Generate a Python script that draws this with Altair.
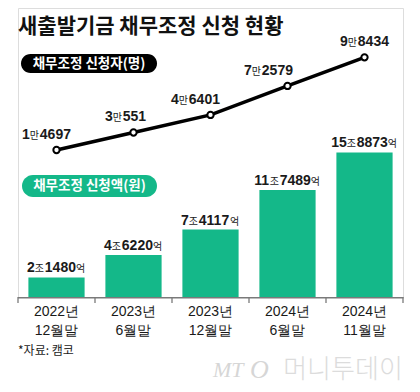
import altair as alt
import pandas as pd

# ---- data ----
periods = ["2022년 12월말", "2023년 6월말", "2023년 12월말", "2024년 6월말", "2024년 11월말"]
applicants = [14697, 30551, 46401, 72579, 98434]          # 명
amounts_eok = [21480, 46220, 74117, 117489, 158873]       # 억원

# ---- styles ----
GREEN = "#14b889"
INK = "#1a1a1a"
AXIS_GRAY = "#7a7a7a"
DIGIT_FONT = "Liberation Sans"
HANGUL_FONT = "Noto Sans CJK KR"
DIGIT_SIZE = 14
UNIT_SIZE = 10
DIGIT_W = 0.556 * DIGIT_SIZE
UNIT_W = 1.0 * UNIT_SIZE
LINE_LABEL_NUDGE = [-10, -8, -15, -19, 0]

W, H = 385, 289
PAD_INNER = 0.27
BAR_DOMAIN = [0, 317600]
LINE_DOMAIN = [-118070, 143000]

n_cat = len(periods)
df_bar = pd.DataFrame({"period": periods, "amount": amounts_eok})
df_line = pd.DataFrame({"period": periods, "applicants": applicants})
# category boundaries (between the bands) for the axis ticks
df_edges = pd.DataFrame({"b": [i - 0.5 for i in range(n_cat + 1)]})
one = pd.DataFrame({"k": [0]})

xsort = periods
x_scale = alt.Scale(domain=periods, paddingInner=PAD_INNER, paddingOuter=PAD_INNER / 2)

bar_y = alt.Y("amount:Q", scale=alt.Scale(domain=BAR_DOMAIN, nice=False, zero=False), axis=None)
line_y = alt.Y("applicants:Q", scale=alt.Scale(domain=LINE_DOMAIN, nice=False, zero=False), axis=None)
x_plain = alt.X("period:N", sort=xsort, scale=x_scale, axis=None)

bars = alt.Chart(df_bar).mark_bar(color=GREEN).encode(x=x_plain, y=bar_y)

# category axis: baseline, boundary ticks and two-line labels
axis_line = alt.Chart(one).mark_rect(color=AXIS_GRAY, opacity=1).encode(
    x=alt.value(0), x2=alt.value(W + 0.5), y=alt.value(H), y2=alt.value(H + 1.5))
ticks = alt.Chart(df_edges).mark_tick(color=AXIS_GRAY, orient="vertical", thickness=1.3,
                                      size=6, opacity=1).encode(
    x=alt.X("b:Q", scale=alt.Scale(domain=[-0.5, n_cat - 0.5], nice=False, zero=False), axis=None),
    y=alt.value(H + 3))
xlabels = alt.Chart(df_bar).mark_text(
    lineBreak=" ", align="center", baseline="top", font=DIGIT_FONT, fontSize=14,
    lineHeight=19, color=INK
).encode(x=x_plain, y=alt.value(H + 8), text="period:N")

line = alt.Chart(df_line).mark_line(color="black", strokeWidth=3.5).encode(x=x_plain, y=line_y)
pts = alt.Chart(df_line).mark_point(filled=True, fill="white", stroke="black",
                                    strokeWidth=2, size=40, opacity=1).encode(x=x_plain, y=line_y)


def piece_layers(df, y_enc, i, pieces, nudge, dy):
    """Value label made of bold digits and small Hangul units, centred on the category."""
    widths = [len(t) * (DIGIT_W if k == "d" else UNIT_W) for t, k in pieces]
    x = -sum(widths) / 2 + nudge
    out = []
    row = df.iloc[[i]]
    for (t, k), w in zip(pieces, widths):
        if k == "d":
            style = dict(font=DIGIT_FONT, fontSize=DIGIT_SIZE, fontWeight="bold")
        else:
            style = dict(font=HANGUL_FONT, fontSize=UNIT_SIZE)
        out.append(
            alt.Chart(row).mark_text(text=t, align="left", baseline="alphabetic",
                                     color=INK, dx=x, dy=dy, **style)
            .encode(x=x_plain, y=y_enc)
        )
        x += w
    return out


label_layers = []
for i in range(n_cat):
    a = amounts_eok[i]
    label_layers += piece_layers(df_bar, bar_y, i,
                                 [(str(a // 10000), "d"), ("조", "u"),
                                  (str(a % 10000), "d"), ("억", "u")], 0, -5)
    n = applicants[i]
    label_layers += piece_layers(df_line, line_y, i,
                                 [(str(n // 10000), "d"), ("만", "u"),
                                  (str(n % 10000), "d")], LINE_LABEL_NUDGE[i], -11)

title = alt.Chart(one).mark_text(
    text="새출발기금 채무조정 신청 현황", align="left", baseline="middle",
    font=HANGUL_FONT, fontSize=21, fontWeight="bold", color="#111"
).encode(x=alt.value(0), y=alt.value(19))

pill1 = alt.Chart(one).mark_rect(color="black", cornerRadius=10).encode(
    x=alt.value(3), x2=alt.value(139), y=alt.value(46), y2=alt.value(65))
pill1_t = alt.Chart(one).mark_text(
    text="채무조정 신청자(명)", align="center", baseline="middle",
    font=HANGUL_FONT, fontSize=13.5, fontWeight="bold", color="white"
).encode(x=alt.value(71), y=alt.value(56))

pill2 = alt.Chart(one).mark_rect(color=GREEN, cornerRadius=11).encode(
    x=alt.value(4), x2=alt.value(139), y=alt.value(167), y2=alt.value(189))
pill2_t = alt.Chart(one).mark_text(
    text="채무조정 신청액(원)", align="center", baseline="middle",
    font=HANGUL_FONT, fontSize=13.5, fontWeight="bold", color="white"
).encode(x=alt.value(71.5), y=alt.value(178))

source = alt.Chart(one).mark_text(
    text="*자료: 캠코", align="left", baseline="middle",
    font=HANGUL_FONT, fontSize=12, color=INK
).encode(x=alt.value(0), y=alt.value(343))

wm1 = alt.Chart(one).mark_text(
    text="MT", align="left", baseline="middle", font="Liberation Serif",
    fontSize=22, fontStyle="italic", color="#d6d6d6"
).encode(x=alt.value(195), y=alt.value(362))
wm2 = alt.Chart(one).mark_text(
    text="O", align="left", baseline="middle", font="Liberation Serif",
    fontSize=26, fontStyle="italic", color="#d6d6d6"
).encode(x=alt.value(232), y=alt.value(362))
wm3 = alt.Chart(one).mark_text(
    text="머니투데이", align="center", baseline="middle", font=HANGUL_FONT,
    fontSize=26, fontWeight=300, color="#dcdcdc"
).encode(x=alt.value(325), y=alt.value(362))

chart = alt.layer(
    bars, xlabels, line, pts, *label_layers,
    title, pill1, pill1_t, pill2, pill2_t, source, wm1, wm2, wm3,
    axis_line, ticks
).resolve_scale(x="independent", y="independent").properties(
    width=W, height=H, autosize=alt.AutoSizeParams(type="none"),
    padding={"left": 10, "top": 0, "right": 9, "bottom": 87},
).configure_view(stroke=None).configure(background="white")

chart.save("out.html", embed_options={"renderer": "svg", "actions": False})
